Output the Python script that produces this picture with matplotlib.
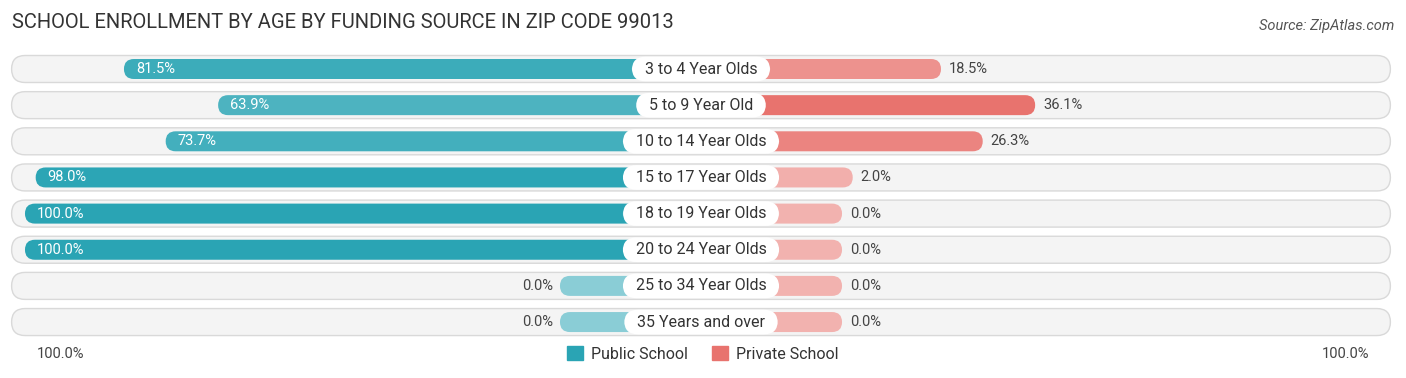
import matplotlib.pyplot as plt
from matplotlib.patches import FancyBboxPatch, Patch
from matplotlib.colors import to_rgb

plt.rcParams['font.family'] = ['Roboto', 'DejaVu Sans']

# 数据
categories = ['3 to 4 Year Olds', '5 to 9 Year Old', '10 to 14 Year Olds', '15 to 17 Year Olds',
              '18 to 19 Year Olds', '20 to 24 Year Olds', '25 to 34 Year Olds', '35 Years and over']
public_vals = [81.5, 63.9, 73.7, 98.0, 100.0, 100.0, 0.0, 0.0]
private_vals = [18.5, 36.1, 26.3, 2.0, 0.0, 0.0, 0.0, 0.0]

PUBLIC_COLOR = '#2aa4b4'
PRIVATE_COLOR = '#e8736e'
OFF = 26.36          # 中间标签占用的宽度（百分比单位）
PX_X = 5.35          # 每个百分点的像素
PX_Y = 36.15         # 每行的像素
ASPECT = PX_X / PX_Y


def shade(base, v, vmax):
    # 数值越小颜色越浅
    t = 0.55 + 0.45 * (v / vmax if vmax else 0)
    r, g, b = to_rgb(base)
    return (1 - t + t * r, 1 - t + t * g, 1 - t + t * b)


def rbar(ax, x0, x1, y, h, fc, ec='none', lw=0, z=2):
    w = x1 - x0
    r = h / ASPECT / 2
    p = FancyBboxPatch((x0, y - h / 2), w, h, boxstyle=f'round,pad=0,rounding_size={r}',
                       mutation_aspect=ASPECT, fc=fc, ec=ec, lw=lw, zorder=z)
    ax.add_patch(p)


fig = plt.figure(figsize=(14.06, 3.78), dpi=100)
ax = fig.add_axes([0, 0, 1, 1])
ax.set_xlim(-701 / PX_X, (1406 - 701) / PX_X)
ax.set_ylim((378 - 69) / PX_Y, -69 / PX_Y)
ax.axis('off')

track = OFF + 102.5
pub_max = max(public_vals)
priv_max = max(private_vals)
for i, cat in enumerate(categories):
    pv = public_vals[i]
    qv = private_vals[i]
    # 背景条
    rbar(ax, -track, track, i, 27 / PX_Y, '#f4f4f4', ec='#d9d9d9', lw=1, z=1)
    # 公立
    rbar(ax, -(OFF + pv), 0, i, 20 / PX_Y, shade(PUBLIC_COLOR, pv, pub_max))
    # 私立
    rbar(ax, 0, OFF + qv, i, 20 / PX_Y, shade(PRIVATE_COLOR, qv, priv_max))

    if pv > 40:
        ax.text(-(OFF + pv) + 12 / PX_X, i, f'{pv:.1f}%', ha='left', va='center',
                fontsize=10.5, color='white', zorder=4)
    else:
        ax.text(-(OFF + pv) - 7 / PX_X, i, f'{pv:.1f}%', ha='right', va='center',
                fontsize=10.5, color='#444444', zorder=4)
    if qv > 40:
        ax.text(OFF + qv - 12 / PX_X, i, f'{qv:.1f}%', ha='right', va='center',
                fontsize=10.5, color='white', zorder=4)
    else:
        ax.text(OFF + qv + 8 / PX_X, i, f'{qv:.1f}%', ha='left', va='center',
                fontsize=10.5, color='#444444', zorder=4)

    ax.text(0, i, f'  {cat}  ', ha='center', va='center', fontsize=11.5, color='#333333', zorder=5,
            bbox=dict(boxstyle='round,pad=0.3,rounding_size=0.85', fc='white', ec='none'))

# 底部刻度标签
ax.text(-(OFF + 100) + 12 / PX_X, (354 - 69) / PX_Y, '100.0%', ha='left', va='center',
        fontsize=10.5, color='#444444')
ax.text(OFF + 100 - 8 / PX_X, (354 - 69) / PX_Y, '100.0%', ha='right', va='center',
        fontsize=10.5, color='#444444')

handles = [Patch(color=PUBLIC_COLOR, label='Public School'),
           Patch(color=PRIVATE_COLOR, label='Private School')]
fig.legend(handles=handles, loc='center', bbox_to_anchor=(0.5, 1 - 354 / 378), ncol=2,
           frameon=False, fontsize=11.5, handlelength=1.0, handleheight=1.0,
           handletextpad=0.5, columnspacing=1.5, labelcolor='#333333')

fig.text(12 / 1406, 1 - 22 / 378, 'SCHOOL ENROLLMENT BY AGE BY FUNDING SOURCE IN ZIP CODE 99013',
         ha='left', va='center', fontsize=14.5, color='#333333')
fig.text(1394 / 1406, 1 - 26 / 378, 'Source: ZipAtlas.com', ha='right', va='center',
         fontsize=10.5, color='#555555', style='italic')

plt.savefig('out.png', dpi=100)
